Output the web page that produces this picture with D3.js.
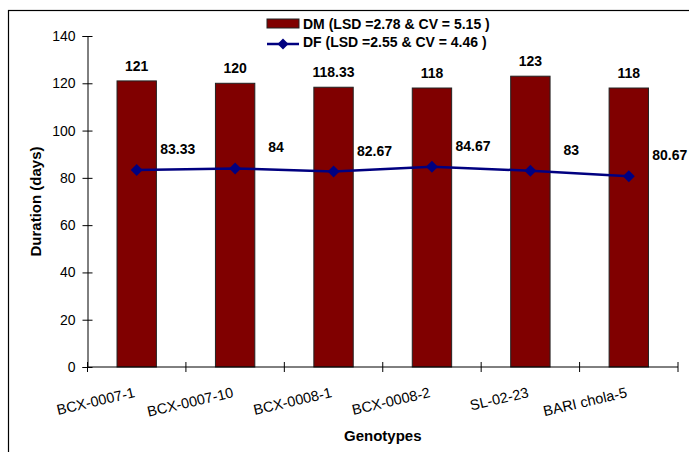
<!DOCTYPE html>
<html>
<head>
<meta charset="utf-8">
<script src="https://cdn.jsdelivr.net/npm/d3@7"></script>
<style>
  html, body { margin: 0; padding: 0; background: #fff; }
  svg { display: block; font-family: "Liberation Sans", Arial, sans-serif; }
</style>
</head>
<body>
<svg id="chart" width="689" height="452"></svg>
<script>
// Genotypes and their days to maturity (DM) and days to flowering (DF)
const genotypes = ["BCX-0007-1", "BCX-0007-10", "BCX-0008-1", "BCX-0008-2", "SL-02-23", "BARI chola-5"];
const dmValues = [121, 120, 118.33, 118, 123, 118];
const dfValues = [83.33, 84, 82.67, 84.67, 83, 80.67];
const dmLabels = ["121", "120", "118.33", "118", "123", "118"];
const dfLabels = ["83.33", "84", "82.67", "84.67", "83", "80.67"];
const yTicks = [0, 20, 40, 60, 80, 100, 120, 140];
const legendDM = "DM (LSD =2.78 & CV = 5.15 )";
const legendDF = "DF (LSD =2.55 & CV = 4.46 )";

const svg = d3.select("#chart");
const plot = { left: 87.5, right: 678, top: 36, bottom: 367 };

// outer chart frame
svg.append("rect")
  .attr("x", 8.5).attr("y", 10.5)
  .attr("width", 700).attr("height", 460)
  .attr("fill", "none").attr("stroke", "#000").attr("stroke-width", 1.2);

const x = d3.scaleBand().domain(genotypes).range([plot.left, plot.right]).paddingInner(0).paddingOuter(0);
const y = d3.scaleLinear().domain([0, 140]).range([plot.bottom, plot.top]);
const barW = x.bandwidth() * 0.4;

// bars (DM)
svg.append("g").selectAll("rect")
  .data(genotypes)
  .join("rect")
  .attr("x", (d) => x(d) + x.bandwidth() / 2 - barW / 2)
  .attr("y", (d, i) => y(dmValues[i]))
  .attr("width", barW)
  .attr("height", (d, i) => y(0) - y(dmValues[i]))
  .attr("fill", "#800000")
  .attr("stroke", "#222")
  .attr("stroke-width", 1);

// DM value labels
svg.append("g").selectAll("text")
  .data(genotypes)
  .join("text")
  .attr("x", (d) => x(d) + x.bandwidth() / 2)
  .attr("y", (d, i) => y(dmValues[i]) - 10)
  .attr("text-anchor", "middle")
  .attr("font-size", 14).attr("font-weight", "bold").attr("fill", "#000")
  .text((d, i) => dmLabels[i]);

// DF line with diamond markers
const cx = (d) => x(d) + x.bandwidth() / 2;
const line = d3.line().x((d) => cx(d)).y((d, i) => y(dfValues[i]));
svg.append("path")
  .datum(genotypes)
  .attr("d", line)
  .attr("fill", "none").attr("stroke", "#000080").attr("stroke-width", 2.5);

const diamond = (s) => `M0,${-s}L${s},0L0,${s}L${-s},0Z`;
svg.append("g").selectAll("path")
  .data(genotypes)
  .join("path")
  .attr("transform", (d, i) => `translate(${cx(d)},${y(dfValues[i])})`)
  .attr("d", diamond(6))
  .attr("fill", "#000080");

// DF value labels
svg.append("g").selectAll("text")
  .data(genotypes)
  .join("text")
  .attr("x", (d) => cx(d) + 41)
  .attr("y", (d, i) => y(dfValues[i]) - 16)
  .attr("text-anchor", "middle")
  .attr("font-size", 14).attr("font-weight", "bold").attr("fill", "#000")
  .text((d, i) => dfLabels[i]);

// y axis
const yAxis = svg.append("g")
  .attr("transform", `translate(${plot.left},0)`)
  .call(d3.axisLeft(y).tickValues(yTicks).tickSize(5).tickPadding(7));
yAxis.select(".domain").attr("stroke", "#000");
yAxis.selectAll(".tick line").attr("x1", 5).attr("x2", -5).attr("stroke", "#000");
yAxis.selectAll(".tick text").attr("font-size", 14).attr("font-family", "Liberation Sans, Arial, sans-serif").attr("fill", "#000");

// x axis with ticks between categories
const xAxis = svg.append("g").attr("transform", `translate(0,${plot.bottom})`);
xAxis.append("line")
  .attr("x1", plot.left).attr("x2", plot.right)
  .attr("stroke", "#000");
const boundaries = genotypes.map((d) => x(d)).concat([x(genotypes[genotypes.length - 1]) + x.bandwidth()]);
xAxis.selectAll("line.tk")
  .data(boundaries)
  .join("line").attr("class", "tk")
  .attr("x1", (d) => d).attr("x2", (d) => d)
  .attr("y1", -5).attr("y2", 5)
  .attr("stroke", "#000");

// category labels, slanted
svg.append("g").selectAll("text")
  .data(genotypes)
  .join("text")
  .attr("transform", (d) => `translate(${cx(d) - 1},${plot.bottom + 30}) rotate(-13)`)
  .attr("text-anchor", "end")
  .attr("font-size", 14.5).attr("fill", "#000")
  .text((d) => d);

// axis titles
svg.append("text")
  .attr("x", (plot.left + plot.right) / 2).attr("y", 441)
  .attr("text-anchor", "middle")
  .attr("font-size", 15).attr("font-weight", "bold")
  .text("Genotypes");

svg.append("text")
  .attr("transform", `translate(41,${(plot.top + plot.bottom) / 2}) rotate(-90)`)
  .attr("text-anchor", "middle")
  .attr("font-size", 15).attr("font-weight", "bold")
  .text("Duration (days)");

// legend
const lg = svg.append("g");
lg.append("rect")
  .attr("x", 267).attr("y", 19).attr("width", 32).attr("height", 9)
  .attr("fill", "#800000").attr("stroke", "#222").attr("stroke-width", 1);
lg.append("text")
  .attr("x", 303).attr("y", 28.5)
  .attr("font-size", 14).attr("font-weight", "bold")
  .text(legendDM);
lg.append("line")
  .attr("x1", 267).attr("x2", 299).attr("y1", 44).attr("y2", 44)
  .attr("stroke", "#000080").attr("stroke-width", 2.5);
lg.append("path")
  .attr("transform", "translate(283,44)")
  .attr("d", diamond(5.5))
  .attr("fill", "#000080");
lg.append("text")
  .attr("x", 303).attr("y", 46.5)
  .attr("font-size", 14).attr("font-weight", "bold")
  .text(legendDF);
</script>
</body>
</html>
